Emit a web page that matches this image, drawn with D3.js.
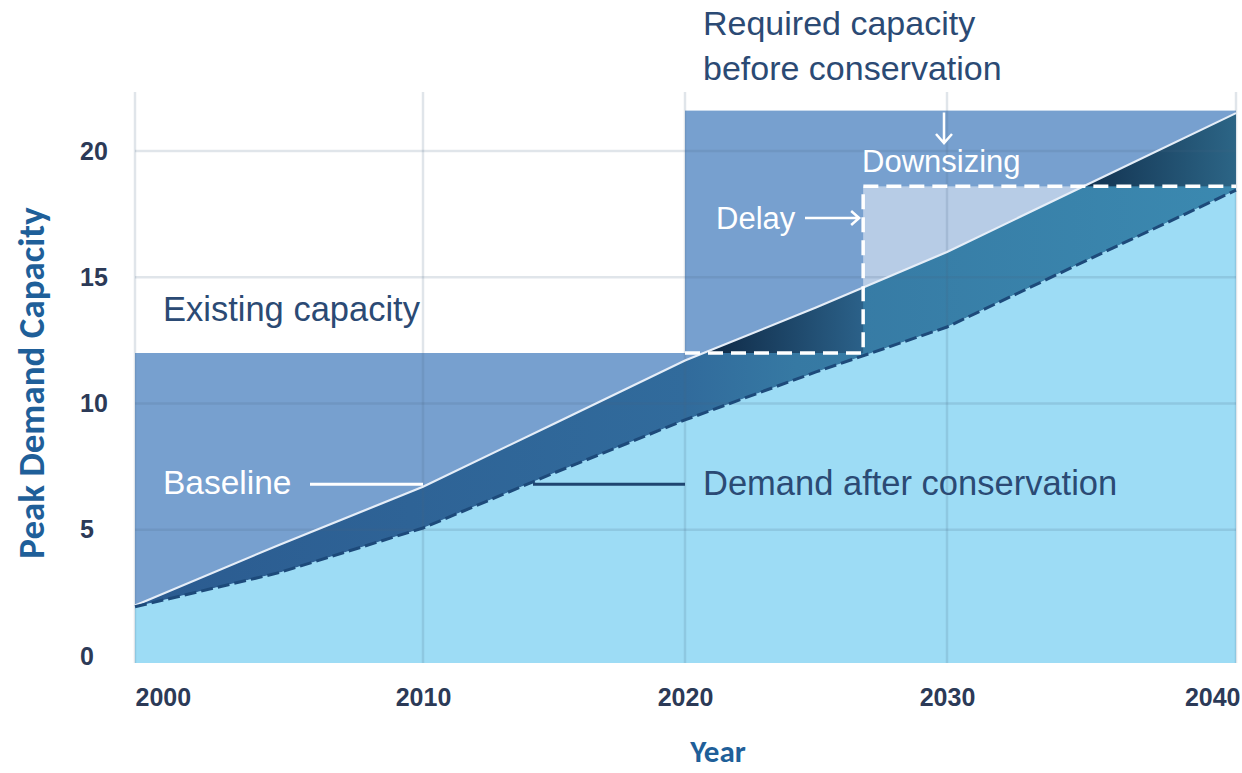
<!DOCTYPE html>
<meta charset="utf-8">
<style>
body { margin: 0; background: #fff; }
svg { display: block; }
.tick text { font-family: "Liberation Sans", Arial, sans-serif; font-weight: bold; font-size: 25px; fill: #2c3a57; }
.note { font-family: "Liberation Sans", Arial, sans-serif; }
.title { font-family: Carlito, Calibri, Lato, sans-serif; font-weight: bold; fill: #1f5f99; }
</style>
<body>
<svg id="svg" width="1242" height="773"></svg>
<script src="https://d3js.org/d3.v7.min.js"></script>
<script>
// years on the x axis
var years = [2000, 2005, 2010, 2015, 2020, 2025, 2030, 2035, 2040];

// peak demand before conservation (white line)
var baseline = [2.0, 4.4, 6.7, 9.2, 11.7, 13.8, 16.0, 18.75, 21.5];

// peak demand after conservation (dashed line)
var demand = [1.95, 3.3, 5.07, 7.25, 9.35, 11.25, 13.03, 15.76, 18.45];

// capacity levels
var existingCapacity = 12.0;
var requiredCapacity = 21.6;
var downsizedCapacity = 18.6;
var planYear = 2020;
var delayYear = 2026.8;

var xTicks = [2000, 2010, 2020, 2030, 2040];
var yTicks = [0, 5, 10, 15, 20];

var svg = d3.select("svg");

// the source picture is not evenly spaced, so the x scale is piecewise
var x = d3.scaleLinear().domain(xTicks).range([135, 423, 685, 947, 1236]);
var y = d3.scaleLinear().domain([0, 20]).range([656, 151]);
var plotTop = 92, plotBottom = 663;
var x0 = x(2000), x1 = x(2040);

// where a series crosses a level (first crossing after a given year)
function crossing(vals, level, after) {
    for (var i = 0; i < years.length - 1; i++) {
        if (years[i + 1] <= after) continue;
        var a = vals[i] - level, b = vals[i + 1] - level;
        if (a <= 0 && b > 0) return years[i] + (years[i + 1] - years[i]) * (-a) / (b - a);
    }
    return after;
}
var cross1 = crossing(baseline, existingCapacity, planYear);
var cross2 = crossing(baseline, downsizedCapacity, delayYear);

var defs = svg.append("defs");

function gradient(id, xa, xb, stops) {
    var g = defs.append("linearGradient").attr("id", id)
        .attr("gradientUnits", "userSpaceOnUse")
        .attr("x1", xa).attr("x2", xb).attr("y1", 0).attr("y2", 0);
    stops.forEach(function(s) {
        g.append("stop").attr("offset", s[0]).attr("stop-color", s[1]);
    });
}
gradient("bandGrad", x0, x1, [[0, "#2b5b90"], [0.5, "#316b9c"], [0.6, "#3679a3"], [1, "#3b89b0"]]);
gradient("dark1", x(cross1), x(delayYear), [[0, "#0e2844"], [1, "#2b6189"]]);
gradient("dark2", x(cross2), x1, [[0, "#123250"], [1, "#2c6586"]]);

var areaBelowBase = d3.area()
    .x(function(d, i) { return x(years[i]); })
    .y0(plotBottom)
    .y1(function(d) { return y(d); });

defs.append("clipPath").attr("id", "underBaseline")
    .append("path").attr("d", areaBelowBase(baseline));

// capacity blocks
svg.append("rect")
    .attr("x", x0).attr("y", y(existingCapacity))
    .attr("width", x(planYear) - x0).attr("height", plotBottom - y(existingCapacity))
    .attr("fill", "#77a0cf");
svg.append("rect")
    .attr("x", x(planYear)).attr("y", y(requiredCapacity))
    .attr("width", x1 - x(planYear)).attr("height", plotBottom - y(requiredCapacity))
    .attr("fill", "#77a0cf");

// downsized capacity box
svg.append("rect")
    .attr("x", x(delayYear)).attr("y", y(downsizedCapacity))
    .attr("width", x1 - x(delayYear)).attr("height", y(existingCapacity) - y(downsizedCapacity))
    .attr("fill", "#b7cce6");

// band between baseline and demand
var band = d3.area()
    .x(function(d, i) { return x(years[i]); })
    .y0(function(d, i) { return y(demand[i]); })
    .y1(function(d) { return y(d); });
svg.append("path").attr("d", band(baseline)).attr("fill", "url(#bandGrad)");

// dark triangles: above the built capacity but under the baseline
var darkG = svg.append("g").attr("clip-path", "url(#underBaseline)");
darkG.append("rect")
    .attr("x", x(planYear)).attr("y", plotTop)
    .attr("width", x(delayYear) - x(planYear)).attr("height", y(existingCapacity) - plotTop)
    .attr("fill", "url(#dark1)");
darkG.append("rect")
    .attr("x", x(delayYear)).attr("y", plotTop)
    .attr("width", x1 - x(delayYear)).attr("height", y(downsizedCapacity) - plotTop)
    .attr("fill", "url(#dark2)");

// demand after conservation area
var below = d3.area()
    .x(function(d, i) { return x(years[i]); })
    .y0(plotBottom)
    .y1(function(d) { return y(d); });
svg.append("path").attr("d", below(demand)).attr("fill", "#9ddcf5");

// grid
var grid = svg.append("g").attr("stroke", "#4a6285").attr("stroke-opacity", 0.17).attr("stroke-width", 2.5);
grid.selectAll(".gx").data(xTicks).enter().append("line")
    .attr("x1", function(d) { return x(d); }).attr("x2", function(d) { return x(d); })
    .attr("y1", plotTop).attr("y2", plotBottom);
grid.selectAll(".gy").data(yTicks.slice(1)).enter().append("line")
    .attr("x1", x0).attr("x2", x1)
    .attr("y1", function(d) { return y(d); }).attr("y2", function(d) { return y(d); });

// baseline (white) line
var line = d3.line()
    .x(function(d, i) { return x(years[i]); })
    .y(function(d) { return y(d); });
svg.append("path").attr("d", line(baseline))
    .attr("fill", "none").attr("stroke", "#e6eef8").attr("stroke-width", 2.2);

// demand dashed line
svg.append("path").attr("d", line(demand))
    .attr("fill", "none").attr("stroke", "#1d4a7a").attr("stroke-width", 3)
    .attr("stroke-dasharray", "12,5");

// dashed white outline of the downsized, delayed capacity
svg.append("path")
    .attr("d", d3.line()([
        [x(planYear), y(existingCapacity)],
        [x(delayYear), y(existingCapacity)],
        [x(delayYear), y(downsizedCapacity)],
        [x1, y(downsizedCapacity)]
    ]))
    .attr("fill", "none").attr("stroke", "#fff").attr("stroke-width", 3.5)
    .attr("stroke-dasharray", "15,8");

// axes
var yAxis = svg.append("g").attr("transform", "translate(80,0)")
    .call(d3.axisLeft(y).tickValues(yTicks).tickSize(0).tickPadding(0));
yAxis.select(".domain").remove();
yAxis.selectAll("text").attr("text-anchor", "start").attr("x", 0);

var xAxis = svg.append("g").attr("transform", "translate(0,706)")
    .call(d3.axisBottom(x).tickValues(xTicks).tickFormat(d3.format("d")).tickSize(0).tickPadding(0));
xAxis.select(".domain").remove();
xAxis.selectAll("text").attr("y", 0).attr("dy", 0)
    .attr("text-anchor", function(d, i) { return i == 0 ? "start" : (i == xTicks.length - 1 ? "end" : "middle"); })
    .attr("x", function(d, i) { return i == xTicks.length - 1 ? 4 : 0; });

// axis titles
svg.append("text").attr("class", "title")
    .attr("x", 718).attr("y", 762).attr("text-anchor", "middle")
    .attr("font-size", 31).text("Year");
svg.append("text").attr("class", "title")
    .attr("transform", "translate(44,383) rotate(-90)").attr("text-anchor", "middle")
    .attr("font-size", 37).text("Peak Demand Capacity");

// annotations
function note(txt, tx, ty, size, color) {
    svg.append("text").attr("class", "note")
        .attr("x", tx).attr("y", ty).attr("font-size", size)
        .attr("fill", color).text(txt);
}
var navy = "#2b4a74";
note("Required capacity", 703, 35, 34, navy);
note("before conservation", 703, 80, 34, navy);
note("Existing capacity", 163, 321, 34.5, navy);
note("Demand after conservation", 703, 495, 34.5, navy);
note("Baseline", 163, 494, 33.5, "#fff");
note("Delay", 716, 229, 31, "#fff");
note("Downsizing", 862, 172, 31, "#fff");

// pointer lines
svg.append("line")
    .attr("x1", 310).attr("x2", x(2010)).attr("y1", y(6.8)).attr("y2", y(6.8))
    .attr("stroke", "#fff").attr("stroke-width", 3);
svg.append("line")
    .attr("x1", 533).attr("x2", x(planYear)).attr("y1", y(6.8)).attr("y2", y(6.8))
    .attr("stroke", "#1f4570").attr("stroke-width", 3);

// delay arrow
var ay = 218;
svg.append("path")
    .attr("d", "M805," + ay + "H" + (x(delayYear) - 4) +
        "M" + (x(delayYear) - 12) + "," + (ay - 7) + "L" + (x(delayYear) - 4) + "," + ay + "L" + (x(delayYear) - 12) + "," + (ay + 7))
    .attr("fill", "none").attr("stroke", "#fff").attr("stroke-width", 2.5);

// downsizing arrow
var ax = x(2030) - 3;
svg.append("path")
    .attr("d", "M" + ax + "," + (y(requiredCapacity) + 2) + "V143" +
        "M" + (ax - 8) + ",134L" + ax + ",143L" + (ax + 8) + ",134")
    .attr("fill", "none").attr("stroke", "#fff").attr("stroke-width", 2.5);
</script>
</body>
